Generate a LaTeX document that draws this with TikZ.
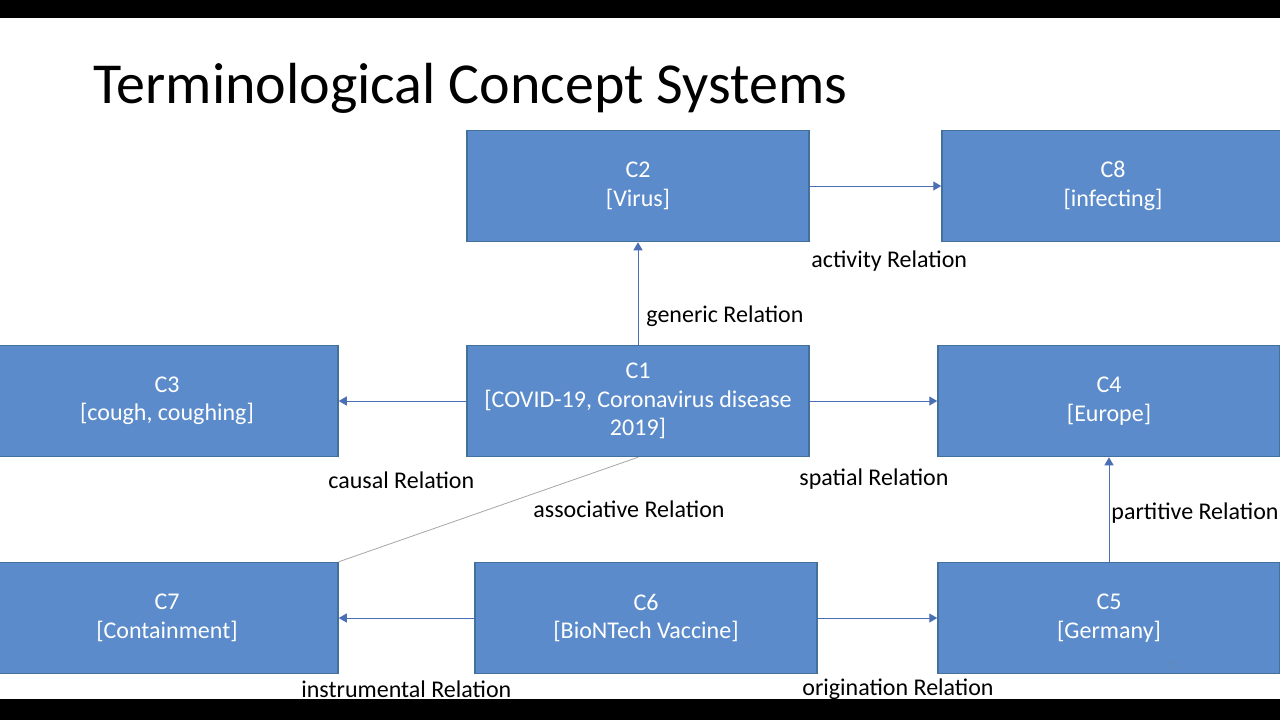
\documentclass[tikz,border=0pt]{standalone}
\usepackage{fontspec}
\setmainfont{Carlito}
\usetikzlibrary{arrows.meta,positioning}
\definecolor{boxfill}{HTML}{5B8BCA}
\definecolor{boxline}{HTML}{41719C}
\definecolor{arrowblue}{HTML}{4A6FB5}
\tikzset{
  concept/.style={draw=boxline, line width=0.75pt, fill=boxfill, text=white,
    minimum width=171pt, minimum height=55.5pt, align=center,
    inner sep=0pt, font=\fontsize{12}{14.25}\selectfont},
  rel/.style={draw=arrowblue, line width=0.5pt, -{Triangle[length=4pt,width=4.5pt]}},
  rellabel/.style={anchor=west, inner sep=0pt, font=\fontsize{12}{14}\selectfont},
}
\begin{document}
\begin{tikzpicture}[x=0.5pt,y=-0.5pt]
    \useasboundingbox (0,0) rectangle (1280,720);
    \clip (0,0) rectangle (1280,720);
    % 背景
    \fill[white] (0,0) rectangle (1280,720);
    \fill[black] (0,0) rectangle (1280,18);
    \fill[black] (0,699) rectangle (1280,720);

    % 标题
    \node[anchor=base west, inner sep=0pt, font=\fontsize{29}{34}\selectfont] (title) at (93,103) {Terminological Concept Systems};

    % 概念框
    \node[concept] (c2) at (638,186) {C2\\{[Virus]}};
    \node[concept] (c8) at (1113,186) {C8\\{[infecting]}};
    \node[concept] (c3) at (167,401) {C3\\{[cough, coughing]}};
    \node[concept] (c1) at (638,401) {C1\\{[COVID-19, Coronavirus disease}\\2019]};
    \node[concept] (c4) at (1109,401) {C4\\{[Europe]}};
    \node[concept] (c7) at (167,618) {C7\\{[Containment]}};
    \node[concept] (c6) at (646,618) {C6\\{[BioNTech Vaccine]}};
    \node[concept] (c5) at (1109,618) {C5\\{[Germany]}};
    \node[text=boxfill!75!gray, inner sep=0pt, font=\fontsize{6}{7}\selectfont] (pagenum) at (1173,666) {12};

    % 关系
    \draw[rel] (c2.east) -- (c8.west);
    \draw[rel] (c1.north) -- (c2.south);
    \draw[rel] (c1.west) -- (c3.east);
    \draw[rel] (c1.east) -- (c4.west);
    \draw[gray!70, line width=0.4pt] (c1.south) -- (c7.north east);
    \draw[rel] (c6.west) -- (c7.east);
    \draw[rel] (c6.east) -- (c5.west);
    \draw[rel] (c5.north) -- (c4.south);

    % 关系标签
    \node[rellabel] (lactivity) at (811,261) {activity Relation};
    \node[rellabel] (lgeneric) at (646,316) {generic Relation};
    \node[rellabel] (lcausal) at (328,480) {causal Relation};
    \node[rellabel] (lspatial) at (799,479) {spatial Relation};
    \node[rellabel] (lassoc) at (533,509) {associative Relation};
    \node[rellabel] (lpartitive) at (1111,513) {partitive Relation};
    \node[rellabel] (linstr) at (301,689) {instrumental Relation};
    \node[rellabel] (lorigin) at (802,689) {origination Relation};
\end{tikzpicture}
\end{document}
